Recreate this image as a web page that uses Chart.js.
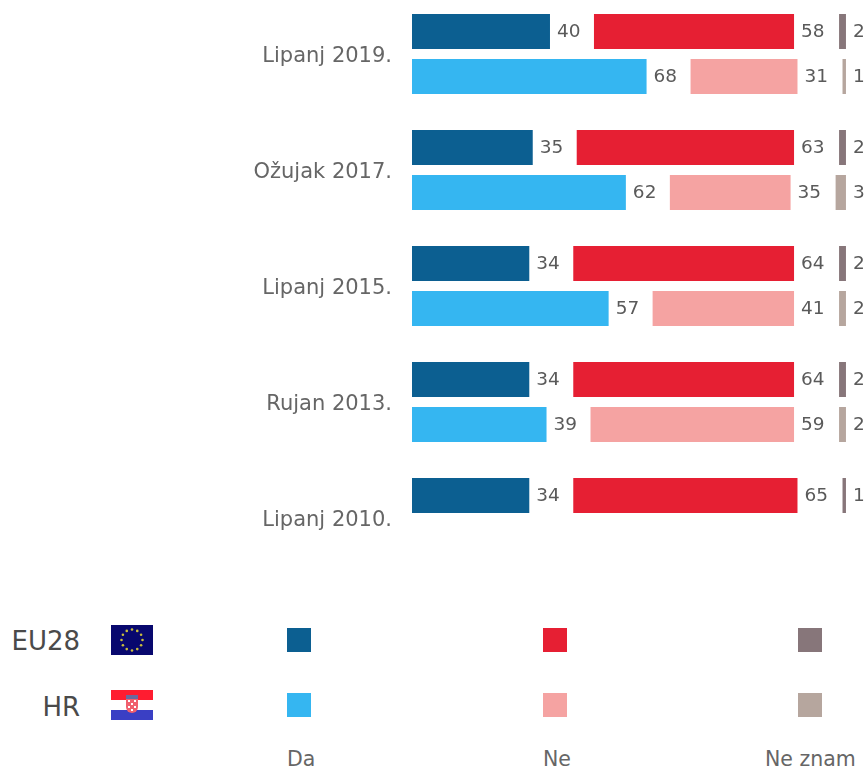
<!DOCTYPE html>
<html lang="hr">
<head>
<meta charset="utf-8">
<title>Da / Ne / Ne znam</title>
<script src="https://cdn.jsdelivr.net/npm/chart.js@4"></script>
<style>
    html, body { margin: 0; padding: 0; background: #fff; overflow: hidden; }
    body { position: relative; width: 867px; height: 767px; font-family: "DejaVu Sans", sans-serif; color: #555; }
    #chart { position: absolute; left: 0; top: -4.5px; }
    .area { position: absolute; transform: translateY(-50%); white-space: nowrap; }
    .area.big { font-size: 26px; right: 787px; color: #4a4a4a; }
    .answer { font-size: 20.5px; top: 759px; color: #666; }
    .swatch { position: absolute; width: 24px; height: 24px; }
    .flag { position: absolute; left: 111px; width: 42px; height: 30px; }
</style>
</head>
<body>
<canvas id="chart" width="867" height="580"></canvas>
<div id="legend"></div>

<script>
const categories = ['Lipanj 2019.', 'Ožujak 2017.', 'Lipanj 2015.', 'Rujan 2013.', 'Lipanj 2010.'];

const euDa = [40, 35, 34, 34, 34];
const euNe = [58, 63, 64, 64, 65];
const euNeZnam = [2, 2, 2, 2, 1];

const hrDa = [68, 62, 57, 39, null];
const hrNe = [31, 35, 41, 59, null];
const hrNeZnam = [1, 3, 2, 2, null];

const answers = ['Da', 'Ne', 'Ne znam'];
const euColors = ['#0c5f91', '#e61f33', '#87767a'];
const hrColors = ['#35b6f1', '#f5a3a2', '#b6a69e'];

// the three answers sit in columns: Ne follows Da after a gap, Ne znam is right aligned
const NE_GAP = 12.75;
const NE_ZNAM_END = 125.8;

function daBars(da) {
    return da.map(v => v === null ? null : [0, v]);
}

function neBars(da, ne) {
    return ne.map((v, i) => v === null ? null : [da[i] + NE_GAP, da[i] + NE_GAP + v]);
}

function neZnamBars(nz) {
    return nz.map(v => v === null ? null : [NE_ZNAM_END - v, NE_ZNAM_END]);
}

function dataset(label, stack, color, bars, values) {
    return { label, stack, backgroundColor: color, data: bars, values };
}

const valueLabels = {
    id: 'valueLabels',
    afterDatasetsDraw(chart) {
        const ctx = chart.ctx;
        ctx.save();
        ctx.font = '18.5px "DejaVu Sans", sans-serif';
        ctx.fillStyle = '#5a5a5a';
        ctx.textAlign = 'left';
        ctx.textBaseline = 'middle';
        chart.data.datasets.forEach((ds, d) => {
            chart.getDatasetMeta(d).data.forEach((bar, i) => {
                if (ds.values[i] === null) return;
                ctx.fillText(ds.values[i], bar.x + 7, bar.y + 1);
            });
        });
        ctx.restore();
    }
};

new Chart(document.getElementById('chart').getContext('2d'), {
    type: 'bar',
    data: {
        labels: categories,
        datasets: [
            dataset('EU28 Da', 'eu', euColors[0], daBars(euDa), euDa),
            dataset('EU28 Ne', 'eu', euColors[1], neBars(euDa, euNe), euNe),
            dataset('EU28 Ne znam', 'eu', euColors[2], neZnamBars(euNeZnam), euNeZnam),
            dataset('HR Da', 'hr', hrColors[0], daBars(hrDa), hrDa),
            dataset('HR Ne', 'hr', hrColors[1], neBars(hrDa, hrNe), hrNe),
            dataset('HR Ne znam', 'hr', hrColors[2], neZnamBars(hrNeZnam), hrNeZnam)
        ]
    },
    options: {
        indexAxis: 'y',
        responsive: false,
        animation: false,
        categoryPercentage: 0.776,
        barPercentage: 0.778,
        layout: { padding: 0 },
        plugins: { legend: { display: false }, tooltip: { enabled: false } },
        scales: {
            x: { display: false, stacked: false, min: 0, max: 131.9 },
            y: {
                grid: { display: false, drawTicks: false },
                border: { display: false },
                ticks: { padding: 20, labelOffset: 3, color: '#666', font: { family: '"DejaVu Sans", sans-serif', size: 21 } },
                afterFit(axis) {
                    axis.width = 412;
                    axis.paddingTop = 0;
                    axis.paddingBottom = 0;
                }
            }
        }
    },
    plugins: [valueLabels]
});

// legend below the chart: area names with flags, then one swatch per answer
const legend = document.getElementById('legend');
const swatchLeft = [287, 543, 798];
const answerLeft = [287, 543, 765];

function addDiv(cls, css, text) {
    const el = document.createElement('div');
    el.className = cls;
    el.style.cssText = css;
    if (text) el.textContent = text;
    legend.appendChild(el);
}

addDiv('area big', 'top:641px', 'EU28');
addDiv('area big', 'top:707px', 'HR');
answers.forEach((a, i) => {
    addDiv('swatch', `left:${swatchLeft[i]}px;top:628px;background:${euColors[i]}`);
    addDiv('swatch', `left:${swatchLeft[i]}px;top:693px;background:${hrColors[i]}`);
    addDiv('area answer', `left:${answerLeft[i]}px`, a);
});

let euStars = '';
for (let i = 0; i < 12; i++) {
    const t = i * Math.PI / 6;
    euStars += `<circle cx="${21 + 10.5 * Math.sin(t)}" cy="${15 - 10.5 * Math.cos(t)}" r="1.3" fill="#c9bd3c"/>`;
}
legend.insertAdjacentHTML('beforeend', `
<svg class="flag" style="top:625px" viewBox="0 0 42 30"><rect width="42" height="30" fill="#08086e"/>${euStars}</svg>
<svg class="flag" style="top:690px" viewBox="0 0 42 30">
    <rect width="42" height="10" fill="#ff1c30"/><rect y="10" width="42" height="10" fill="#fff"/><rect y="20" width="42" height="10" fill="#3a3fc4"/>
    <rect x="15" y="5" width="12" height="4" fill="#6a6a9e"/>
    <path d="M15 9h12v8a6 6 0 0 1-12 0z" fill="#f0606e"/>
    <rect x="17" y="10" width="2" height="2" fill="#fff"/><rect x="23" y="10" width="2" height="2" fill="#fff"/><rect x="20" y="13" width="2" height="2" fill="#fff"/><rect x="17" y="16" width="2" height="2" fill="#fff"/><rect x="23" y="16" width="2" height="2" fill="#fff"/><rect x="20" y="19" width="2" height="2" fill="#fff"/>
</svg>`);
</script>
</body>
</html>
